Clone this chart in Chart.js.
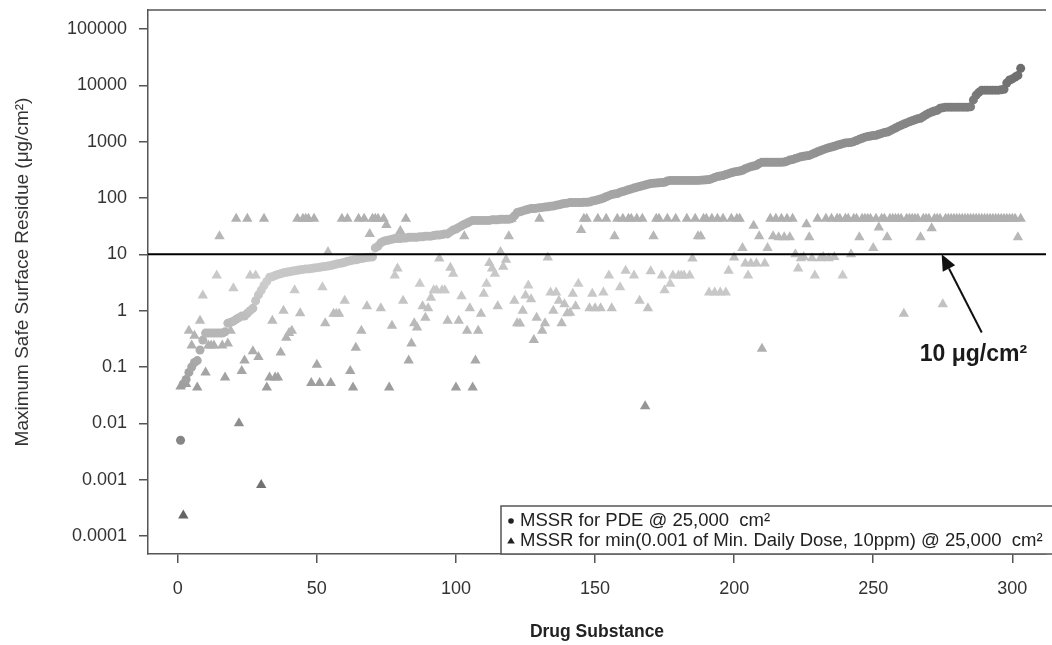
<!DOCTYPE html>
<html><head><meta charset="utf-8">
<script src="https://cdn.jsdelivr.net/npm/chart.js@4.4.1/dist/chart.umd.min.js"></script>
<style>html,body{margin:0;padding:0;background:#fff;}canvas{display:block;}</style>
</head><body>
<canvas id="c" width="1052" height="645"></canvas>
<script>
// MSSR for PDE (sorted ascending), one per drug substance
const pdeValues = [
0.005,0.05,0.06,0.08,0.1,0.12,0.13,0.2,0.3,0.4,
0.4,0.4,0.4,0.4,0.4,0.4,0.42,0.6,0.62,0.65,
0.7,0.75,0.8,0.8,0.9,1.0,1.1,1.5,1.9,2.3,
2.8,3.3,3.9,4.0,4.2,4.4,4.5,4.7,4.8,4.9,
5.0,5.1,5.2,5.3,5.4,5.5,5.5,5.6,5.7,5.8,
5.9,6.0,6.1,6.2,6.3,6.5,6.7,6.9,7.0,7.2,
7.5,7.7,7.9,8.0,8.2,8.4,8.6,8.8,8.9,9.0,
13,14,16,17,17.5,18,18.5,19,19,19,
19.5,19.5,20,20,20,20,20.5,20.5,21,21,
21,21.5,22,22,22.5,23,23,25,27,28,
30,32,34,36,38,40,40,40,40,40,
40,40,41,41,41,42,42,42,42,43,
48,55,57,59,61,63,65,65,66,67,
68,69,70,71,72,74,76,78,80,81,
83,83,83,83,83,84,84,85,88,90,
93,96,100,105,110,115,118,120,126,130,
135,140,145,150,155,160,165,170,175,180,
182,184,186,188,190,200,205,205,205,205,
205,205,205,205,205,205,205,207,208,210,
212,220,230,240,245,250,260,270,280,290,
295,300,310,330,345,360,370,380,410,430,
430,430,430,430,430,430,430,435,450,470,
480,500,520,540,550,560,570,600,630,660,
690,720,750,780,800,830,860,890,920,950,
960,970,1000,1050,1100,1150,1200,1230,1260,1280,
1300,1350,1400,1450,1480,1550,1650,1750,1850,1950,
2050,2150,2250,2350,2450,2550,2600,2800,3000,3200,
3350,3500,3600,3900,4000,4100,4100,4100,4100,4100,
4100,4100,4100,4100,4150,5500,6700,7500,8200,8200,
8200,8200,8200,8200,8200,8300,8500,11000,12400,13000,
14000,15000,20000
];
// MSSR for min(0.001 of Min. Daily Dose, 10ppm), same drug order
const minDoseValues = [
0.045,0.00023,0.05,0.44,0.24,0.36,0.043,0.66,1.85,0.08,
0.24,0.24,0.24,4.2,21,0.24,0.065,0.26,0.44,2.5,
43,0.01,0.085,0.13,43,4.2,0.19,4.2,0.15,0.0008,
43,0.043,0.065,0.66,0.065,0.065,0.18,1.0,0.33,0.4,
0.44,2.3,43,0.9,43,43,43,0.052,43,0.11,
0.052,2.6,0.6,11,0.052,0.88,0.88,0.88,43,1.5,
43,0.085,0.043,0.22,43,0.44,43,1.2,23,43,
43,43,1.1,43,33,0.043,0.54,4.2,5.6,26,
1.5,43,0.13,0.26,0.6,0.5,3.0,1.2,0.75,1.1,
1.7,2.3,2.3,8.4,2.3,2.3,0.66,5.8,4.5,0.043,
0.66,1.8,21,0.44,1.1,0.043,0.13,0.44,0.88,2.0,
3.0,7.0,5.6,4.5,1.2,11,6.0,8.0,21,43,
1.5,0.6,0.59,1.0,1.85,2.8,1.6,0.3,0.75,43,
0.44,0.6,8.8,2.1,1.0,2.1,1.5,0.6,1.3,0.9,
0.92,2.0,1.2,3.0,27,43,43,1.1,2.0,1.1,
43,1.1,2.1,43,4.2,1.1,21,43,2.6,43,
5.1,43,43,4.2,43,1.5,43,0.02,1.1,5.0,
21,43,43,4.2,2.3,43,3.0,4.2,43,4.2,
4.2,4.2,43,4.2,8.4,43,21,21,43,43,
2.1,43,2.1,43,2.1,43,2.1,5.1,43,8.8,
43,43,13,6.9,4.2,6.9,32,6.9,21,0.21,
6.9,13,43,21,43,20,43,20,43,20,
43,10,5.6,8.5,9,34,20,8.5,4.2,43,
8.5,9,43,8.5,43,9,43,43,4.2,43,
43,10,43,43,20,43,43,43,43,13,
43,30,43,43,20,43,43,43,43,43,
0.88,43,43,43,43,43,20,43,43,43,
29,43,43,43,1.3,43,43,43,43,43,
43,43,43,43,43,43,43,43,43,43,
43,43,43,43,43,43,43,43,43,43,
43,20,43
];
const xTickValues = [0, 50, 100, 150, 200, 250, 300];
const yTickValues = [0.0001, 0.001, 0.01, 0.1, 1, 10, 100, 1000, 10000, 100000];
const yTickLabels = ['0.0001','0.001','0.01','0.1','1','10','100','1000','10000','100000'];
const thresholdValue = 10;
const legendLabels = ['MSSR for PDE @ 25,000  cm²', 'MSSR for min(0.001 of Min. Daily Dose, 10ppm) @ 25,000  cm²'];
const xTitle = 'Drug Substance';
const yTitle = 'Maximum Safe Surface Residue (μg/cm²)';
const annotationText = '10 μg/cm²';
const arrowTip = {x: 274.6, y: 10};
const arrowTail = {x: 289, y: 0.41};
const annotationPos = {x: 286, y: 0.165};

const FONT = "'Liberation Sans', Arial, Helvetica, sans-serif";

function grayFor(v) {
  const L = Math.log10(v);
  let g = Math.round(204 - 25 * Math.abs(L - 0.5));
  g = Math.max(95, Math.min(208, g));
  return `rgb(${g},${g},${g})`;
}

const pdePoints = pdeValues.map((v, i) => ({x: i + 1, y: v}));
const dosePoints = minDoseValues.map((v, i) => ({x: i + 1, y: v}));

const overlay = {
  id: 'overlay',
  afterDraw(chart) {
    const {ctx, chartArea: a, scales: {x, y}} = chart;
    ctx.save();
    // top frame
    ctx.strokeStyle = '#555'; ctx.lineWidth = 1.5;
    ctx.beginPath(); ctx.moveTo(a.left, a.top); ctx.lineTo(a.right, a.top); ctx.stroke();
    // threshold line
    const ty = y.getPixelForValue(thresholdValue);
    ctx.strokeStyle = '#000'; ctx.lineWidth = 2;
    ctx.beginPath(); ctx.moveTo(a.left, ty); ctx.lineTo(a.right, ty); ctx.stroke();
    // arrow
    const tx = x.getPixelForValue(arrowTip.x), tpy = y.getPixelForValue(arrowTip.y);
    const sx = x.getPixelForValue(arrowTail.x), sy = y.getPixelForValue(arrowTail.y);
    const ang = Math.atan2(tpy - sy, tx - sx);
    const headLen = 16, headW = 7;
    const bx = tx - Math.cos(ang) * headLen, by = tpy - Math.sin(ang) * headLen;
    ctx.strokeStyle = '#111'; ctx.lineWidth = 2;
    ctx.beginPath(); ctx.moveTo(sx, sy); ctx.lineTo(bx, by); ctx.stroke();
    ctx.fillStyle = '#111';
    ctx.beginPath();
    ctx.moveTo(tx, tpy);
    ctx.lineTo(bx + Math.sin(ang) * headW, by - Math.cos(ang) * headW);
    ctx.lineTo(bx - Math.sin(ang) * headW, by + Math.cos(ang) * headW);
    ctx.closePath(); ctx.fill();
    // annotation text
    ctx.font = `bold 23px ${FONT}`;
    ctx.fillStyle = '#1a1a1a'; ctx.textAlign = 'center'; ctx.textBaseline = 'middle';
    ctx.fillText(annotationText, x.getPixelForValue(annotationPos.x), y.getPixelForValue(annotationPos.y));
    // y axis title
    ctx.save();
    ctx.translate(23, 272);
    ctx.rotate(-Math.PI / 2);
    ctx.font = `19px ${FONT}`;
    ctx.fillStyle = '#333'; ctx.textAlign = 'center'; ctx.textBaseline = 'middle';
    ctx.fillText(yTitle, 0, 0);
    ctx.restore();
    // legend box
    const lx = 501, ly = 506, lb = a.bottom;
    ctx.fillStyle = '#fff';
    ctx.fillRect(lx, ly, a.right - lx + 10, lb - ly);
    ctx.strokeStyle = '#555'; ctx.lineWidth = 1.5;
    ctx.strokeRect(lx, ly, a.right - lx + 20, lb - ly);
    ctx.font = `18.5px ${FONT}`;
    ctx.fillStyle = '#222'; ctx.textAlign = 'left'; ctx.textBaseline = 'middle';
    const rows = [521, 541];
    ctx.beginPath(); ctx.arc(511, rows[0], 2.8, 0, Math.PI * 2); ctx.fill();
    ctx.beginPath(); ctx.moveTo(511, rows[1] - 3.8); ctx.lineTo(514.8, rows[1] + 2.6); ctx.lineTo(507.2, rows[1] + 2.6); ctx.closePath(); ctx.fill();
    legendLabels.forEach((t, i) => ctx.fillText(t, 520, rows[i]));
    ctx.restore();
  }
};

new Chart(document.getElementById('c'), {
  type: 'scatter',
  data: {
    datasets: [
      {label: legendLabels[0], data: pdePoints, pointStyle: 'circle', pointRadius: 4.5, pointHoverRadius: 4.5,
       borderWidth: 0, backgroundColor: ctx => grayFor(ctx.raw ? ctx.raw.y : 1)},
      {label: legendLabels[1], data: dosePoints, pointStyle: 'triangle', pointRadius: 6, pointHoverRadius: 6,
       borderWidth: 0, backgroundColor: ctx => grayFor(ctx.raw ? ctx.raw.y : 1)}
    ]
  },
  options: {
    responsive: false, animation: false, events: [],
    layout: {padding: {top: 10, right: 0, bottom: 0, left: 0}},
    plugins: {legend: {display: false}, tooltip: {enabled: false}},
    scales: {
      x: {
        type: 'linear', min: -10.7, max: 312.1,
        afterBuildTicks: s => { s.ticks = xTickValues.map(v => ({value: v})); },
        afterFit: s => { s.height = 645 - 554; s.paddingLeft = 0; s.paddingRight = 0; },
        grid: {drawOnChartArea: false, drawTicks: true, tickLength: 9, color: '#555', lineWidth: 1.5},
        border: {display: true, color: '#555', width: 1.5},
        ticks: {font: {family: FONT, size: 18}, color: '#333', padding: 15, maxRotation: 0, autoSkip: false,
                callback: v => String(v)},
        title: {display: true, text: xTitle, font: {family: FONT, size: 17.5, weight: 'bold'}, color: '#222',
                padding: {top: 0, bottom: 2}}
      },
      y: {
        type: 'logarithmic', min: Math.pow(10, -4.32), max: Math.pow(10, 5.337),
        afterBuildTicks: s => { s.ticks = yTickValues.map(v => ({value: v})); },
        afterFit: s => { s.width = 148; s.paddingTop = 0; s.paddingBottom = 0; },
        grid: {drawOnChartArea: false, drawTicks: true, tickLength: 9, color: '#555', lineWidth: 1.5},
        border: {display: true, color: '#555', width: 1.5},
        ticks: {font: {family: FONT, size: 18}, color: '#333', padding: 12, autoSkip: false,
                callback: (v, i) => yTickLabels[yTickValues.indexOf(v)] ?? yTickLabels[i]},
        title: {display: false, text: yTitle}
      }
    }
  },
  plugins: [overlay]
});
</script>
</body></html>
